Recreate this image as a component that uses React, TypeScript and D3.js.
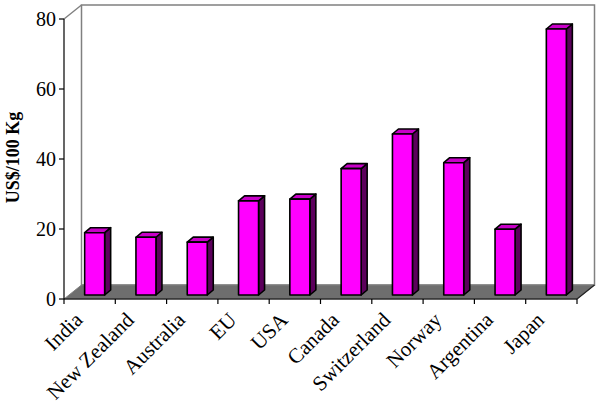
import React from "react";
import * as d3 from "d3";

const categories = ["India", "New Zealand", "Australia", "EU", "USA", "Canada", "Switzerland", "Norway", "Argentina", "Japan"];
const values = [17.8, 16.5, 15.1, 26.9, 27.4, 36.1, 46.0, 37.8, 18.8, 76.0];
const yTicks = [0, 20, 40, 60, 80];
const yLabel = "US$/100 Kg";

const W = 599, H = 406;
const left = 64, right = 577, top = 19, bottom = 299;
const DX = 17.5, DY = -14; // wall depth
const b0x = 5, b0y = -4; // bar front offset
const bdx = 6, bdy = -5; // bar depth
const font = "'Liberation Serif', 'Times New Roman', serif";

export default function App() {
  const x = d3.scaleBand<string>().domain(categories).range([left, right]).padding(0);
  const y = d3.scaleLinear().domain([0, 80]).range([bottom, top]);
  const bw = x.bandwidth() * 0.39;
  const boundaries = categories.map((c) => x(c) as number).concat([right]);

  return (
    <svg width={W} height={H} style={{ position: "absolute", left: 0, top: 0, background: "#fff" }}>
      <rect x={left + DX} y={top + DY} width={right - left} height={bottom - top} fill="#fff" stroke="#808080" strokeWidth={1.5} />
      <line x1={left} y1={top} x2={left + DX} y2={top + DY} stroke="#808080" strokeWidth={1.5} />
      <polygon
        points={`${left},${bottom} ${right},${bottom} ${right + DX},${bottom + DY} ${left + DX},${bottom + DY}`}
        fill="#6e6e6e"
        stroke="#808080"
        strokeWidth={1}
      />
      <line x1={right} y1={bottom} x2={right + DX} y2={bottom + DY} stroke="#222" strokeWidth={1.2} />
      {categories.map((c, i) => {
        const cx = (x(c) as number) + x.bandwidth() / 2;
        const x0 = cx - bw / 2 + b0x;
        const x1 = cx + bw / 2 + b0x;
        const yt = y(values[i]) + b0y;
        const yb = y(0) + b0y;
        return (
          <g key={c} stroke="#000" strokeWidth={1.6} strokeLinejoin="round">
            <polygon points={`${x1},${yt} ${x1 + bdx},${yt + bdy} ${x1 + bdx},${yb + bdy} ${x1},${yb}`} fill="#5c005c" />
            <polygon points={`${x0},${yt} ${x1},${yt} ${x1 + bdx},${yt + bdy} ${x0 + bdx},${yt + bdy}`} fill="#c800c8" />
            <rect x={x0} y={yt} width={x1 - x0} height={yb - yt} fill="#ff00ff" />
          </g>
        );
      })}
      <line x1={left} y1={top} x2={left} y2={bottom} stroke="#000" strokeWidth={1.2} />
      <line x1={left} y1={bottom} x2={right} y2={bottom} stroke="#000" strokeWidth={1.2} />
      {yTicks.map((t) => (
        <g key={t}>
          <line x1={left - 5} y1={y(t)} x2={left} y2={y(t)} stroke="#000" strokeWidth={1.2} />
          <text x={left - 8} y={y(t)} dy="0.35em" textAnchor="end" fontFamily={font} fontSize={20} fill="#000">
            {t}
          </text>
        </g>
      ))}
      {boundaries.map((bx, i) => (
        <line key={i} x1={bx} y1={bottom} x2={bx} y2={bottom + 5} stroke="#000" strokeWidth={1.2} />
      ))}
      {categories.map((c) => {
        const cx = (x(c) as number) + x.bandwidth() / 2;
        const ax = cx - 11;
        const ay = bottom + 17;
        return (
          <text
            key={c}
            x={ax}
            y={ay}
            textAnchor="end"
            dy="0.35em"
            transform={`rotate(-45 ${ax} ${ay})`}
            fontFamily={font}
            fontSize={21}
            fill="#000"
          >
            {c}
          </text>
        );
      })}
      <text
        x={0}
        y={0}
        transform={`translate(13 ${157.5}) rotate(-90)`}
        textAnchor="middle"
        dy="0.35em"
        fontFamily={font}
        fontSize={18}
        fontWeight="bold"
        fill="#000"
      >
        {yLabel}
      </text>
    </svg>
  );
}
